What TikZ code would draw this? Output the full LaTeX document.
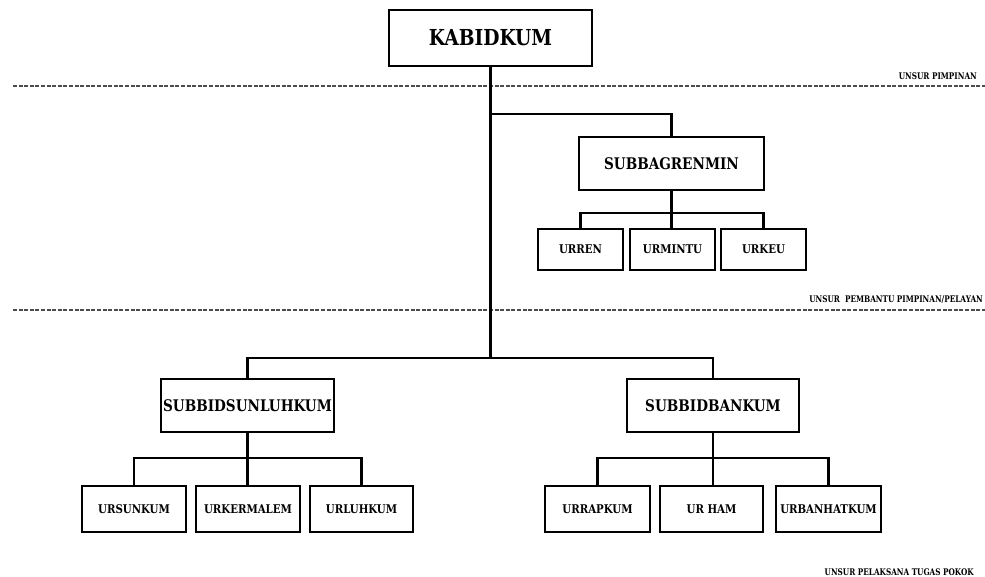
\documentclass[tikz,border=0pt]{standalone}
\usepackage{fontspec}
\setmainfont{DejaVu Serif}
\newfontfamily\boxfont{DejaVu Serif}[FakeStretch=0.85]
\newfontfamily\tagfont{DejaVu Serif}[FakeStretch=0.8]
\begin{document}
\begin{tikzpicture}[x=1pt,y=-1pt,
  orgbox/.style={draw=black,line width=2.8pt,fill=white,inner sep=0pt,align=center},
  bigbox/.style={orgbox,minimum width=203pt,minimum height=56pt,font=\boxfont\bfseries\fontsize{22}{24}\selectfont},
  midbox/.style={orgbox,minimum height=53pt,font=\boxfont\bfseries\fontsize{16}{18}\selectfont},
  smallbox/.style={orgbox,minimum height=43pt,font=\boxfont\bfseries\fontsize{12}{14}\selectfont},
  link/.style={draw=black,line width=2.8pt},
  sep/.style={draw=black!70,line width=1.7pt,dash pattern=on 4pt off 1.6pt},
  tag/.style={anchor=east,inner sep=0pt,font=\tagfont\bfseries\fontsize{9.1}{10}\selectfont}]
\useasboundingbox[fill=white] (0,0) rectangle (985,577);

% separators
\draw[sep] (13,86) -- (985,86);
\draw[sep] (13,310) -- (985,310);
\node[tag] (t1) at (977,76) {UNSUR PIMPINAN};
\node[tag] (t2) at (983,300) {UNSUR\ \ PEMBANTU PIMPINAN/PELAYAN};
\node[tag] (t3) at (974,572) {UNSUR PELAKSANA TUGAS POKOK};

% boxes
\node[bigbox] (k) at (490.5,38) {KABIDKUM};
\node[midbox,minimum width=185pt] (sb) at (671.5,163.5) {SUBBAGRENMIN};
\node[smallbox,minimum width=85pt,minimum height=41pt] (u1) at (580.5,249.5) {URREN};
\node[smallbox,minimum width=85pt,minimum height=41pt] (u2) at (672.5,249.5) {URMINTU};
\node[smallbox,minimum width=85pt,minimum height=41pt] (u3) at (763.5,249.5) {URKEU};

\node[midbox,minimum width=173pt] (sl) at (247.5,405.5) {SUBBIDSUNLUHKUM};
\node[smallbox,minimum width=104pt,minimum height=46pt] (l1) at (134,509) {URSUNKUM};
\node[smallbox,minimum width=104pt,minimum height=46pt] (l2) at (248,509) {URKERMALEM};
\node[smallbox,minimum width=103pt,minimum height=46pt] (l3) at (361.5,509) {URLUHKUM};

\node[midbox,minimum width=172pt] (sk) at (713,405.5) {SUBBIDBANKUM};
\node[smallbox,minimum width=105pt,minimum height=46pt] (r1) at (597.5,509) {URRAPKUM};
\node[smallbox,minimum width=103pt,minimum height=46pt] (r2) at (711.5,509) {UR HAM};
\node[smallbox,minimum width=105pt,minimum height=46pt] (r3) at (828.5,509) {URBANHATKUM};

% junction levels
\coordinate (ya) at (0,114);
\coordinate (yb) at (0,213);
\coordinate (yc) at (0,358);
\coordinate (yd) at (0,458);
\coordinate (j) at (k.south |- yc);

% connectors
\draw[link] (k.south) -- (j);
\draw[link] (k.south |- ya) -| (sb.north);
\draw[link] (sl.north) |- (j) -| (sk.north);

\draw[link] (sb.south) -- (sb.south |- u2.north);
\draw[link] (u1.north) |- (sb.south |- yb) -| (u3.north);

\draw[link] (sl.south) -- (sl.south |- l2.north);
\draw[link] (l1.north) |- (sl.south |- yd) -| (l3.north);

\draw[link] (sk.south) -- (sk.south |- r2.north);
\draw[link] (r1.north) |- (sk.south |- yd) -| (r3.north);
\end{tikzpicture}
\end{document}
